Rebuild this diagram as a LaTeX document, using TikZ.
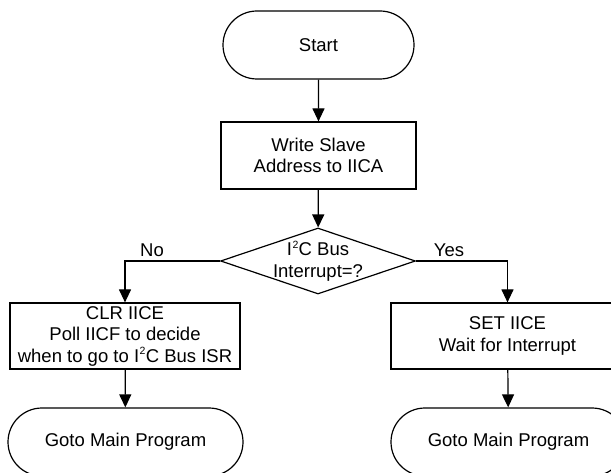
\documentclass[tikz,border=0pt]{standalone}
\usepackage{fontspec}
\setmainfont{Liberation Sans}
\usetikzlibrary{arrows.meta,shapes.misc,shapes.geometric}
\newcommand{\sqsup}{\kern0.5pt\raisebox{0.42em}{\fontsize{10.5}{10.5}\selectfont 2}\kern0.3pt}
\begin{document}
\begin{tikzpicture}[x=1pt,y=-1pt,
  every node/.style={font=\fontsize{18.5}{21.5}\selectfont, align=center},
  term/.style={draw, line width=1.2pt, rounded rectangle, minimum width=#1, minimum height=68pt, inner sep=0pt},
  procbox/.style={draw, line width=1.2pt, rectangle, minimum width=#1, minimum height=67pt, inner sep=0pt},
  dec/.style={draw, line width=1.2pt, diamond, minimum width=195pt, minimum height=66pt, inner sep=0pt},
  flow/.style={line width=1.2pt, -{Triangle[length=13pt,width=12pt]}},
  lbl/.style={inner sep=0pt}
]
\clip (0,0) rectangle (611,473);
\node[term=191pt] (start) at (318.5,45) {Start};
\node[procbox=195pt] (write) at (318.5,155.5) {Write Slave\\Address to IICA};
\node[dec] (decide) at (318,261) {};
\node[lbl] (dtext) at (318,261) {I\sqsup C Bus\\Interrupt=?};
\node[procbox=230pt, minimum height=66pt] (clr) at (125,336) {CLR IICE\\Poll IICF to decide\\when to go to I\sqsup C Bus ISR};
\node[procbox=233pt, minimum height=66pt] (set) at (507.5,336) {SET IICE\\Wait for Interrupt};
\node[term=235pt] (mainl) at (125.5,442) {Goto Main Program};
\node[term=235pt] (mainr) at (508.5,442) {Goto Main Program};
\node[lbl] (no) at (152,250) {No};
\node[lbl] (yes) at (449,250) {Yes};
\draw[flow] (start) -- (write);
\draw[flow] (write) -- (decide);
\draw[flow] (decide.west) -| (clr.north);
\draw[flow] (decide.east) -| (set.north);
\draw[flow] (clr) -- (mainl);
\draw[flow] (set) -- (mainr);
\end{tikzpicture}
\end{document}
